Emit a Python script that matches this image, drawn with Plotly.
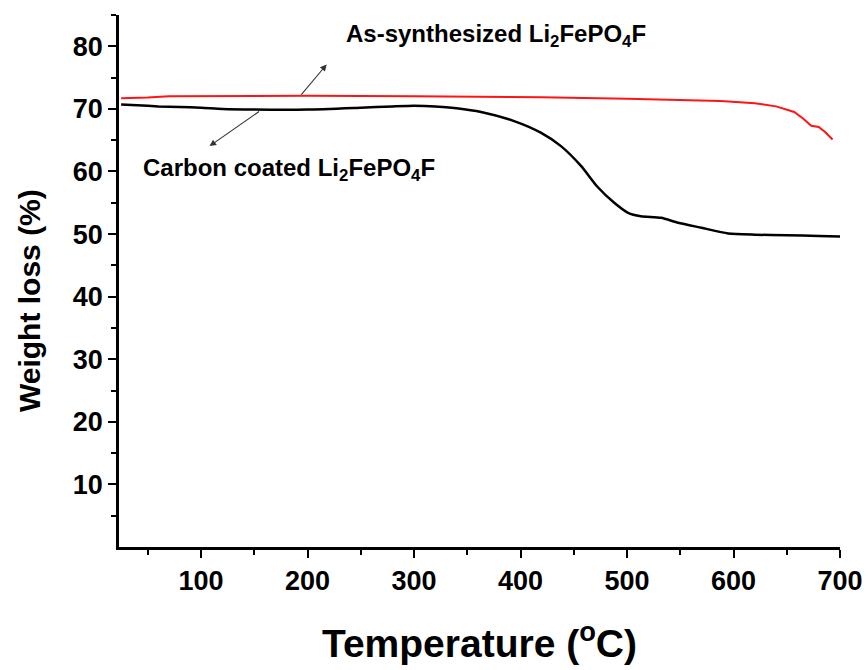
import plotly.graph_objects as go

# Carbon coated Li2FePO4F (black)
temp_coated = [25, 40, 60, 80, 100, 120, 150, 200, 250, 280, 300, 320, 340, 363, 394, 419,
               438, 457, 472, 488, 501, 513, 532, 548, 570, 595, 620, 650, 680, 700]
wt_coated = [70.7, 70.6, 70.4, 70.3, 70.2, 70.0, 69.9, 69.9, 70.2, 70.4, 70.5, 70.4, 70.1, 69.5,
             68.05, 66.2, 64.05, 60.85, 57.6, 55.0, 53.4, 52.85, 52.6, 51.8, 51.0, 50.1, 49.9,
             49.8, 49.7, 49.6]

# As-synthesized Li2FePO4F (red)
temp_as = [25, 50, 70, 150, 200, 300, 420, 500, 588, 620, 640, 657, 665, 673, 680, 686, 693]
wt_as = [71.7, 71.8, 72.0, 72.05, 72.1, 72.0, 71.85, 71.6, 71.25, 70.9, 70.4, 69.5, 68.5,
         67.3, 67.1, 66.3, 65.1]

x_ticks = [100, 200, 300, 400, 500, 600, 700]
x_minor = [50, 150, 250, 350, 450, 550, 650]
y_ticks = [10, 20, 30, 40, 50, 60, 70, 80]
y_minor = [5, 15, 25, 35, 45, 55, 65, 75, 85]

FONT = "Liberation Sans, Arial, sans-serif"

fig = go.Figure()
fig.add_trace(go.Scatter(x=temp_coated, y=wt_coated, mode="lines",
                         line=dict(color="black", width=2.5, shape="spline", smoothing=0.6),
                         showlegend=False))
fig.add_trace(go.Scatter(x=temp_as, y=wt_as, mode="lines",
                         line=dict(color="#ff1414", width=2), showlegend=False))

# arrows
fig.add_annotation(x=218, y=77.1, ax=193, ay=72.05, xref="x", yref="y", axref="x", ayref="y",
                   showarrow=True, arrowhead=2, arrowsize=1.2, arrowwidth=1.1,
                   arrowcolor="#333333", text="")
fig.add_annotation(x=108, y=64.05, ax=156, ay=69.76, xref="x", yref="y", axref="x", ayref="y",
                   showarrow=True, arrowhead=2, arrowsize=1.2, arrowwidth=1.1,
                   arrowcolor="#333333", text="")


def px_to_data(px, py):
    return 23 + (px - 118.6) / 1.064, (547 - py) / 6.25


# labels
ax_, ay_ = px_to_data(495, 36)
fig.add_annotation(x=ax_, y=ay_, xref="x", yref="y",
                   text="As-synthesized Li<sub>2</sub>FePO<sub>4</sub>F",
                   showarrow=False, font=dict(family=FONT, size=24, color="black", weight="bold"))
cx, cy = px_to_data(288, 170)
fig.add_annotation(x=cx, y=cy, xref="x", yref="y",
                   text="Carbon coated Li<sub>2</sub>FePO<sub>4</sub>F",
                   showarrow=False, font=dict(family=FONT, size=24, color="black", weight="bold"))

# y-axis title as annotation (placed like the reference)
fig.add_annotation(x=(29 - 119) / (868 - 119 - 28), y=(547 - 301) / (547 - 15),
                   xref="paper", yref="paper", text="Weight loss (%)",
                   textangle=-90, showarrow=False, xanchor="center", yanchor="middle",
                   font=dict(family=FONT, size=30, color="black", weight="bold"))

fig.update_layout(
    width=868, height=670,
    margin=dict(l=119, r=28, t=15, b=123, autoexpand=False),
    plot_bgcolor="white", paper_bgcolor="white",
    font=dict(family=FONT, color="black"),
    xaxis=dict(
        range=[23, 700], tickvals=x_ticks, ticks="outside", ticklen=8, tickwidth=2,
        tickcolor="black", showline=True, linewidth=2.5, linecolor="black",
        showgrid=False, zeroline=False, automargin=False,
        tickfont=dict(family=FONT, size=27, color="black", weight="bold"),
        minor=dict(tickvals=x_minor, ticks="outside", ticklen=5, tickwidth=2, tickcolor="black"),
        title=dict(text="Temperature (<sup>o</sup>C)", standoff=35,
                   font=dict(family=FONT, size=39, color="black", weight="bold")),
    ),
    yaxis=dict(
        range=[0, 85], tickvals=y_ticks, ticks="outside", ticklen=8, tickwidth=2,
        tickcolor="black", showline=True, linewidth=2.5, linecolor="black",
        showgrid=False, zeroline=False, automargin=False,
        tickfont=dict(family=FONT, size=27, color="black", weight="bold"),
        minor=dict(tickvals=y_minor, ticks="outside", ticklen=5, tickwidth=2, tickcolor="black"),
    ),
)

fig.write_html("out.html")
